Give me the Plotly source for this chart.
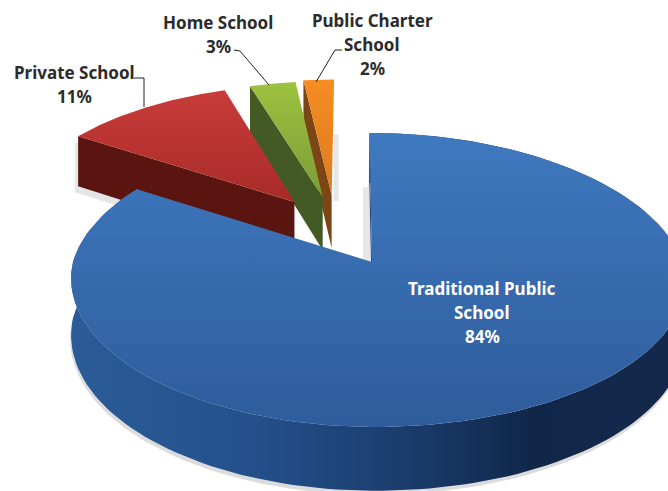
import numpy as np
import plotly.graph_objects as go

# School enrollment shares, clockwise from twelve o'clock
categories = ["Traditional Public School", "Private School", "Home School", "Public Charter School"]
shares = [84, 11, 3, 2]
# Slice explosion, as an offset on the unit disc (sideways, towards the viewer)
explode_a = [0.0, -0.272, -0.172, -0.14]
explode_b = [0.0, -0.436, -0.475, -0.490]

# Fill colours per slice: face top, face bottom, side
face_top = ["#3f79bf", "#c93c3a", "#9dc23f", "#f68c24"]
face_bottom = ["#2e5c9c", "#a72b27", "#7c9c38", "#dc7b1e"]
side_colour = ["#2a5a94", "#5b1511", "#435a25", "#7b4516"]

LABEL_FONT = "Noto Sans"
DARK = "#2b2b2b"
SHADOW = "#e6e6e6"

# Oblique pie camera: the disc is drawn with mild perspective
CX, CY, A_LEFT, A_RIGHT, B, SKEW, K, KX, DEPTH = 372.0, 262.0, 299.0, 310.0, 144.8, 3.0, 0.1224, 0.15, 56.0


def project(a, b, drop=False):
    a, b = np.asarray(a, float), np.asarray(b, float)
    w = 1.0 - K * b
    wx = np.where(b < 0, 1.0 - KX * b, w)
    x = CX + (np.where(a < 0, A_LEFT, A_RIGHT) * a + SKEW * b) / wx
    y = CY + (B * b + (DEPTH if drop else 0.0)) / w
    return x, y


def wedge(start, stop, da, db):
    theta = np.radians(np.linspace(start, stop, 160))
    a = np.sin(theta) + da
    b = -np.cos(theta) + db
    return a, b


def polygon(x, y, fillgradient, layer_name):
    return go.Scatter(
        x=list(x), y=list(y), mode="lines", fill="toself",
        line=dict(width=0), fillgradient=fillgradient,
        hoverinfo="skip", showlegend=False, name=layer_name,
    )


def solid(colour):
    return dict(type="vertical", colorscale=[[0, colour], [1, colour]])


edges = np.concatenate([[0.0], np.cumsum(shares)]) * 3.6
fig = go.Figure()

# Back slices go first, the large slice last so it overlaps them
for i in [3, 2, 1]:
    a, b = wedge(edges[i], edges[i + 1], explode_a[i], explode_b[i])
    # Radial side wall seen from the front-left
    ra = np.array([a[0], explode_a[i]])
    rb = np.array([b[0], explode_b[i]])
    tx, ty = project(ra, rb)
    dx, dy = project(ra[::-1], rb[::-1], drop=True)
    wall_x, wall_y = np.r_[tx, dx, tx[0]], np.r_[ty, dy, ty[0]]
    if i == 1:
        # Contact shadow below the wall's outer corner
        fig.add_trace(polygon(wall_x - 3, wall_y + 6, solid(SHADOW), categories[i] + " shadow"))
    if i == 3:
        # Thin shadow to the right of the narrowest slice
        ex, ey = project(a[-1], b[-1])
        ax, ay = project(explode_a[i], explode_b[i])
        fig.add_trace(polygon([ax + 2, ax + 7, ax + 7, ax + 2], [ey + 55, ey + 55, ay + 6, ay + 6],
                              solid(SHADOW), categories[i] + " shadow"))
    fig.add_trace(polygon(wall_x, wall_y, solid(side_colour[i]), categories[i] + " side"))
    # Top face
    fa = np.r_[explode_a[i], a, explode_a[i]]
    fb = np.r_[explode_b[i], b, explode_b[i]]
    fx, fy = project(fa, fb)
    grad = dict(type="vertical", colorscale=[[0, face_bottom[i]], [1, face_top[i]]])
    fig.add_trace(polygon(fx, fy, grad, categories[i]))

# Large slice: soft ground shadow, rim, start wall, then the top face
a, b = wedge(edges[0], edges[1], 0.0, 0.0)
ox, oy = project(a, b)
bx, by = project(a, b, drop=True)
fig.add_trace(polygon(np.r_[bx - 1, (bx + 1)[::-1]], np.r_[by + 4, (oy)[::-1]], solid("#dcdcdc"), "ground shadow"))
rim_gradient = dict(
    type="horizontal",
    colorscale=[[0, "#2b5c98"], [0.3, "#23508a"], [0.55, "#1a3c6c"], [0.75, "#11274a"], [1, "#14294a"]],
)
fig.add_trace(polygon(np.r_[ox, bx[::-1]], np.r_[oy, by[::-1]], rim_gradient, categories[0] + " rim"))
sa, sb = np.array([0.0, 0.0]), np.array([-1.0, 0.0])
sx, sy = project(sa, sb)
sx2, sy2 = project(sa[::-1], sb[::-1], drop=True)
# Narrow shadow beside the wall where the large slice was cut open
fig.add_trace(polygon([sx[1] - 9, sx[1] - 2, sx[1] - 2, sx[1] - 9],
                      [sy[0] + 54, sy[0] + 54, sy[1] + 2, sy[1] + 2], solid(SHADOW), "cut shadow"))
fig.add_trace(polygon(np.r_[sx, sx2], np.r_[sy, sy2], solid("#1f3f70"), categories[0] + " wall"))
fx, fy = project(np.r_[0.0, a, 0.0], np.r_[0.0, b, 0.0])
grad = dict(type="vertical", colorscale=[[0, face_bottom[0]], [1, face_top[0]]])
fig.add_trace(polygon(fx, fy, grad, categories[0]))

# Leader lines from the outside labels to their slices
leader_x = [[134, 144, 144], [234, 240, 269], [342, 335, 316]]
leader_y = [[78, 78, 107], [50, 51, 85], [50, 50, 82]]
for lx, ly in zip(leader_x, leader_y):
    fig.add_trace(go.Scatter(x=lx, y=ly, mode="lines", line=dict(color="#222222", width=1), hoverinfo="skip", showlegend=False))

# Text: (string, x, y, colour)
label_text = ["Private School", "11%", "Home School", "3%", "Public Charter", "School", "2%",
              "Traditional Public", "School", "84%"]
label_x = [74, 74, 218, 218, 372, 372, 372, 482, 482, 482]
label_y = [72, 96, 22, 46, 20, 44, 68, 288, 312, 336]
label_colour = [DARK] * 7 + ["#ffffff"] * 3
annotations = [
    dict(x=x, y=y, text="<b>%s</b>" % t, showarrow=False, xanchor="center", yanchor="middle",
         font=dict(family=LABEL_FONT, size=17, color=c))
    for t, x, y, c in zip(label_text, label_x, label_y, label_colour)
]

fig.update_layout(
    width=668, height=491, margin=dict(l=0, r=0, t=0, b=0),
    paper_bgcolor="white", plot_bgcolor="white", showlegend=False,
    xaxis=dict(range=[0, 668], visible=False, fixedrange=True),
    yaxis=dict(range=[491, 0], visible=False, fixedrange=True),
    annotations=annotations,
)
fig.write_html("out.html", config=dict(displayModeBar=False))
